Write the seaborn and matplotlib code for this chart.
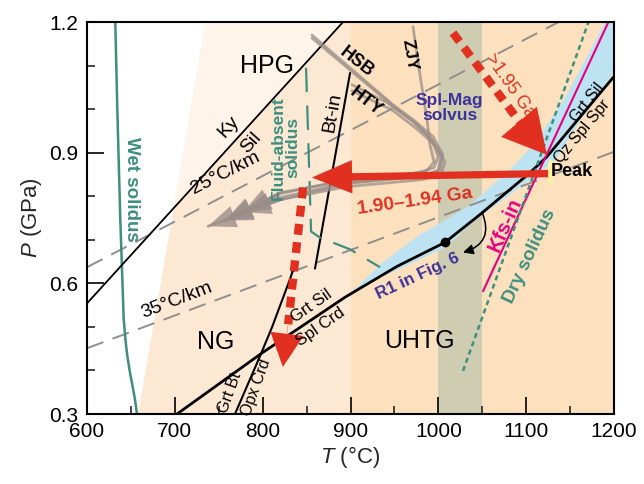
import matplotlib
matplotlib.use("Agg")
import numpy as np
import matplotlib.pyplot as plt
from matplotlib.patches import FancyArrowPatch, Ellipse
import seaborn as sns

sns.set_theme(style="ticks")
plt.rcParams["font.family"] = ["Liberation Sans", "DejaVu Sans"]
plt.rcParams["mathtext.fontset"] = "custom"
plt.rcParams["mathtext.it"] = "Liberation Sans:italic"
plt.rcParams["mathtext.rm"] = "Liberation Sans"

# ---- field shading (T in degC, P in GPa) ----
granulite_band_T = [658, 900, 900, 735]
granulite_band_P = [0.30, 0.30, 1.20, 1.20]
hpg_T = [698.4, 735, 891.5]
hpg_P = [0.772, 1.20, 1.20]
uhtg_T = [900, 1200]
solvus_T = [1000, 1050]
r1_band_T = [902, 935, 977, 1035, 1081, 1110, 1144, 1190, 1200,
             1200, 1162, 1133, 1104, 1043, 1008, 938, 902]
r1_band_P = [0.581, 0.645, 0.709, 0.778, 0.860, 0.922, 1.025, 1.20, 1.20,
             1.085, 0.975, 0.883, 0.837, 0.746, 0.682, 0.617, 0.581]

# ---- reaction lines and geotherms ----
wet_solidus_T = [632.2, 634.5, 637.9, 641.8, 643.8, 645.8, 648.5, 651.5, 654.5, 656.9]
wet_solidus_P = [1.20, 1.00, 0.747, 0.518, 0.470, 0.435, 0.400, 0.368, 0.335, 0.300]
kysil_T = [600, 891.5]
kysil_P = [0.554, 1.20]
geo25_T = [600, 1137]
geo25_P = [0.637, 1.20]
geo35_T = [600, 1200]
geo35_P = [0.451, 0.902]
btin_T = [859.6, 899.5]
btin_P = [0.634, 1.083]
fluid_abs_T = [849.4, 855.1, 865.3, 899.5, 933.6]
fluid_abs_P = [1.095, 0.719, 0.705, 0.678, 0.637]
grtsil_T = [702.5, 799.2, 893.7, 953.0, 1007.6, 1047.5, 1104.4, 1123.7, 1200]
grtsil_P = [0.300, 0.440, 0.568, 0.639, 0.694, 0.758, 0.854, 0.891, 1.075]
grtbt_T = [768.5, 797.0, 810.6, 831.0, 835.7]
grtbt_P = [0.300, 0.433, 0.499, 0.609, 0.637]
kfs_T = [1050.9, 1193.2]
kfs_P = [0.582, 1.198]
dry_T = [1028.1, 1171.0]
dry_P = [0.399, 1.20]

# ---- P-T paths of other studies (HSB, HTY, ZJY) ----
paths_T = [
    [856.2, 948.4, 971.2, 994.0, 1005.3, 1001.9, 984.8, 896.0, 819.7, 737.8],
    [856.2, 950.7, 973.5, 992.8, 999.7, 995.1, 979.1, 896.0, 819.7, 757.1],
    [901.7, 941.6, 971.2, 992.8, 1003.1, 999.7, 979.1, 896.0, 819.7, 757.1],
    [901.7, 947.3, 974.6, 997.4, 1007.6, 1003.1, 981.4, 896.0, 819.7, 777.6],
    [971.2, 979.1, 987.1, 990.5, 995.1, 987.1, 956.4, 896.0, 819.7, 777.6],
]
paths_P = [
    [1.170, 1.010, 0.976, 0.937, 0.895, 0.861, 0.847, 0.829, 0.792, 0.731],
    [1.163, 1.003, 0.969, 0.928, 0.891, 0.866, 0.854, 0.838, 0.806, 0.744],
    [1.056, 1.015, 0.971, 0.930, 0.891, 0.859, 0.845, 0.831, 0.797, 0.744],
    [1.042, 0.998, 0.956, 0.915, 0.879, 0.849, 0.838, 0.822, 0.792, 0.763],
    [1.189, 1.079, 0.976, 0.918, 0.879, 0.859, 0.847, 0.836, 0.808, 0.763],
]

# ---- this study's path ----
prograde_T = [1016.7, 1096.4, 1123.7]
prograde_P = [1.175, 0.960, 0.895]
decomp_T = [1125, 856]
decomp_P = [0.852, 0.843]
cooling_T = [846, 829, 823]
cooling_P = [0.820, 0.506, 0.408]
peak_T, peak_P = 1127.5, 0.855
r1_T, r1_P = 1007.6, 0.694

RED = "#e1301f"
TEAL = "#3d8f7f"
MAG = "#e5007e"
INDIGO = "#3b3399"
GREY_PATH = "#9a8d88"
GEO = "#8f8f8f"

fig = plt.figure(figsize=(6.44, 4.84), dpi=100)
ax = fig.add_axes([87 / 644, 1 - 414 / 484, 527 / 644, 392 / 484])
ax.set_xlim(600, 1200)
ax.set_ylim(0.3, 1.2)

# shading
ax.fill(granulite_band_T, granulite_band_P, color="#fde9d3", lw=0, zorder=0)
ax.fill(hpg_T, hpg_P, color="#fef4ea", lw=0, zorder=0)
ax.axvspan(*uhtg_T, color="#fde1be", lw=0, zorder=0)
ax.axvspan(*solvus_T, color="#cfcdb1", lw=0, zorder=0.5)
ax.fill(r1_band_T, r1_band_P, color="#bde2f2", lw=0, zorder=1)


def line(x, y, **kw):
    sns.lineplot(x=x, y=y, sort=False, estimator=None, ax=ax, legend=False, **kw)


line(wet_solidus_T, wet_solidus_P, color=TEAL, lw=1.8, zorder=3)
line(kysil_T, kysil_P, color="black", lw=1.3, zorder=3)
line(geo25_T, geo25_P, color=GEO, lw=1.4, dashes=(9, 5), zorder=2)
line(geo35_T, geo35_P, color=GEO, lw=1.4, dashes=(9, 5), zorder=2)
line(btin_T, btin_P, color="black", lw=1.5, zorder=3)
line(fluid_abs_T, fluid_abs_P, color=TEAL, lw=1.6, dashes=(11, 6), zorder=3)
line(grtsil_T, grtsil_P, color="black", lw=2.0, zorder=3)
line(grtbt_T, grtbt_P, color="black", lw=1.5, zorder=3)
line(kfs_T, kfs_P, color=MAG, lw=1.5, zorder=3)
line(dry_T, dry_P, color=TEAL, lw=1.8, dashes=(2, 1.5), zorder=3)

# grey P-T paths with arrowheads
for pt, pp in zip(paths_T, paths_P):
    line(pt, pp, color=GREY_PATH, lw=2.0, alpha=0.75, zorder=4)
    ax.add_patch(FancyArrowPatch((pt[-2], pp[-2]), (pt[-1], pp[-1]),
                                 arrowstyle="simple,head_length=1.0,head_width=0.8,tail_width=0.1",
                                 mutation_scale=20, color=GREY_PATH, alpha=0.8, lw=0,
                                 shrinkA=0, shrinkB=0, zorder=4))

# red arrows of this study
ax.plot(prograde_T[:2], prograde_P[:2], color=RED, lw=6, dashes=(1.3, 0.9), zorder=6,
        dash_capstyle="butt")
ax.add_patch(FancyArrowPatch((prograde_T[1], prograde_P[1]), (prograde_T[2], prograde_P[2]),
                             arrowstyle="simple,head_length=1.3,head_width=1.4,tail_width=0.01",
                             mutation_scale=24, color=RED, lw=0, shrinkA=0, shrinkB=0, zorder=6))
ax.add_patch(FancyArrowPatch((decomp_T[0], decomp_P[0]), (decomp_T[1], decomp_P[1]),
                             arrowstyle="simple,head_length=1.45,head_width=1.2,tail_width=0.26",
                             mutation_scale=20, color=RED, lw=0, shrinkA=0, shrinkB=0, zorder=6))
ax.plot(cooling_T[:2], cooling_P[:2], color=RED, lw=6, dashes=(1.3, 0.9), zorder=6,
        dash_capstyle="butt")
ax.add_patch(FancyArrowPatch((cooling_T[1], cooling_P[1]), (cooling_T[2], cooling_P[2]),
                             arrowstyle="simple,head_length=1.0,head_width=1.0,tail_width=0.01",
                             mutation_scale=24, color=RED, lw=0, shrinkA=0, shrinkB=0, zorder=6))

ax.add_patch(Ellipse((peak_T, peak_P), 7, 0.06, color="#fbf1a2", lw=0, zorder=5))
ax.plot([r1_T], [r1_P], "o", color="black", ms=6, zorder=7)
ax.annotate("", xy=(1028.1, 0.671), xytext=(1049.8, 0.763),
            arrowprops=dict(arrowstyle="-|>,head_length=0.5,head_width=0.25", color="black",
                            lw=1.1, connectionstyle="arc3,rad=-0.55", shrinkA=0, shrinkB=0),
            zorder=7)


# labels
def lab(x, y, s, rot=0, size=11, color="black", weight="normal", **kw):
    ax.text(x, y, s, rotation=rot, fontsize=size, color=color, fontweight=weight,
            ha=kw.pop("ha", "center"), va=kw.pop("va", "center"),
            rotation_mode="anchor", zorder=8, **kw)


lab(805, 1.10, "HPG", size=18)
lab(746, 0.465, "NG", size=18)
lab(979, 0.467, "UHTG", size=18)
lab(761, 0.960, "Ky", rot=48, size=14)
lab(787, 0.922, "Sil", rot=48, size=14)
lab(757, 0.853, "25°C/km", rot=27, size=14)
lab(702.5, 0.560, "35°C/km", rot=21, size=14)
lab(651, 0.815, "Wet solidus", rot=-90, size=13.5, color=TEAL, weight="bold")
lab(826, 0.911, "Fluid-absent\nsolidus", rot=90, size=12.5, color=TEAL, weight="bold",
    linespacing=0.95)
lab(879, 0.992, "Bt-in", rot=80, size=14)
lab(907.4, 1.108, "HSB", rot=-38, size=13, weight="bold")
lab(917, 1.017, "HTY", rot=-38, size=13, weight="bold")
lab(967.8, 1.124, "ZJY", rot=-80, size=12.5, weight="bold")
lab(1013, 1.003, "Spl-Mag\nsolvus", size=12.5, color=INDIGO, weight="bold", linespacing=1.0)
lab(1081.6, 1.053, ">1.95 Ga", rot=-55, size=13, color=RED)
lab(973.5, 0.788, "1.90–1.94 Ga", rot=8, size=13.8, color=RED, weight="bold")
lab(1128, 0.857, "Peak", size=13, weight="bold", ha="left")
lab(1170, 1.015, "Grt Sil", rot=52, size=11.5)
lab(1163.6, 0.948, "Qz Spl Spr", rot=50, size=11.5)
lab(856, 0.549, "Grt Sil", rot=35, size=12)
lab(866, 0.500, "Spl Crd", rot=35, size=12)
lab(763, 0.348, "Grt Bt", rot=70, size=11.5)
lab(792, 0.362, "Opx Crd", rot=70, size=11.5)
lab(977, 0.616, "R1 in Fig. 6", rot=25, size=12.2, color=INDIGO, weight="bold")
lab(1076, 0.735, "Kfs-in", rot=66, size=14.5, color=MAG, weight="bold")
lab(1104.4, 0.662, "Dry solidus", rot=65, size=13.5, color=TEAL, weight="bold")

# axes styling
ax.set_xticks(np.arange(600, 1201, 100))
ax.set_xticks(np.arange(650, 1200, 100), minor=True)
ax.set_yticks([0.3, 0.6, 0.9, 1.2])
ax.set_yticks([0.4, 0.5, 0.7, 0.8, 1.0, 1.1], minor=True)
ax.set_yticklabels(["0.3", "0.6", "0.9", "1.2"])
ax.tick_params(which="major", direction="in", length=12, width=1.2, labelsize=15,
               colors="black", pad=6)
ax.tick_params(which="minor", direction="in", length=6, width=1.2)
ax.tick_params(top=False, right=False, which="both")
for sp in ax.spines.values():
    sp.set_linewidth(1.5)
    sp.set_color("black")
    sp.set_zorder(10)
ax.set_xlabel(r"$T$ (°C)", fontsize=16, labelpad=2)
ax.set_ylabel(r"$P$ (GPa)", fontsize=16, labelpad=4)
ax.grid(False)

fig.savefig("out.png", dpi=100)
